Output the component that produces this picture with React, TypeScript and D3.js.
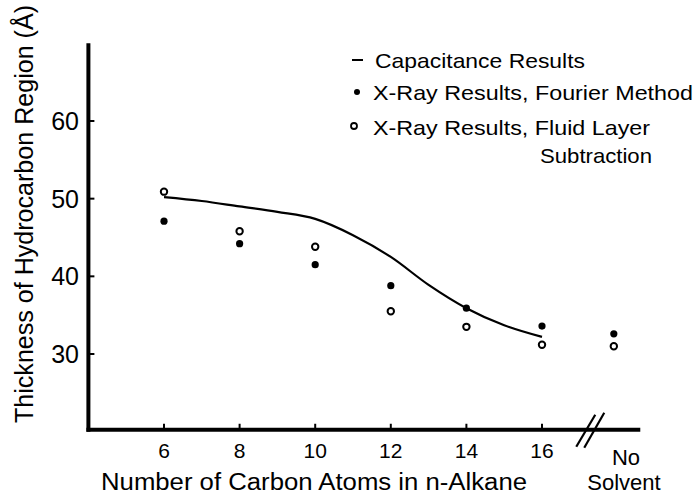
import React from "react";
import * as d3 from "d3";

const carbons = [6, 8, 10, 12, 14, 16];
const fourierValues = [47.1, 44.2, 41.5, 38.8, 35.9, 33.6];
const fluidValues = [50.9, 45.8, 43.8, 35.5, 33.5, 31.2];
const capacitanceX = [6, 7, 8, 9, 10, 11, 12, 13, 14, 15, 16];
const capacitanceY = [50.2, 49.7, 49.0, 48.3, 47.4, 45.3, 42.5, 38.9, 35.9, 33.7, 32.2];
const noSolventPos = 17.9;
const noSolventFourier = 32.6;
const noSolventFluid = 31.0;
const yTicks = [30, 40, 50, 60];
const xTickLabels = ["6", "8", "10", "12", "14", "16"];
const legendLabels = [
  "Capacitance Results",
  "X-Ray Results, Fourier Method",
  "X-Ray Results, Fluid Layer",
  "Subtraction",
];

const W = 696;
const H = 495;
const FONT = "'Liberation Sans', Arial, sans-serif";

export default function App() {
  const x = d3.scaleLinear().domain([4, 18]).range([88.4, 617.6]);
  const y = d3.scaleLinear().domain([20, 70]).range([431.7, 43.3]);

  const axisY = y(20.25);
  const axisEnd = x(18.6);
  const brk = x(17.25);

  const line = d3
    .line<number>()
    .x((_, i) => x(capacitanceX[i]))
    .y((d) => y(d))
    .curve(d3.curveMonotoneX);

  return (
    <svg
      width={W}
      height={H}
      viewBox={`0 0 ${W} ${H}`}
      style={{ position: "absolute", left: 0, top: 0, background: "#fff" }}
      fontFamily={FONT}
    >
      <rect x={0} y={0} width={W} height={H} fill="#fff" />
      {/* axes */}
      <line x1={x(4)} y1={y(70)} x2={x(4)} y2={axisY + 2} stroke="#000" strokeWidth={4} />
      <line x1={x(4) - 2} y1={axisY} x2={axisEnd} y2={axisY} stroke="#000" strokeWidth={4} />
      {/* y ticks */}
      {yTicks.map((t) => (
        <g key={t}>
          <line x1={x(4)} x2={x(4) + 6} y1={y(t)} y2={y(t)} stroke="#000" strokeWidth={2} />
          <text x={79} y={y(t)} dy="0.36em" textAnchor="end" fontSize={25}>
            {t}
          </text>
        </g>
      ))}
      {/* x ticks */}
      {carbons.map((c, i) => (
        <g key={c}>
          <line x1={x(c)} x2={x(c)} y1={axisY} y2={axisY - 6} stroke="#000" strokeWidth={2} />
          <text x={x(c)} y={458} textAnchor="middle" fontSize={21}>
            {xTickLabels[i]}
          </text>
        </g>
      ))}
      {/* axis break */}
      <line x1={brk - 13} y1={axisY + 17} x2={brk + 6} y2={axisY - 15} stroke="#000" strokeWidth={2.2} />
      <line x1={brk - 5} y1={axisY + 18} x2={brk + 15} y2={axisY - 17} stroke="#000" strokeWidth={2.2} />
      {/* labels */}
      <text x={101} y={490} fontSize={23} textLength={426} lengthAdjust="spacingAndGlyphs">
        Number of Carbon Atoms in n-Alkane
      </text>
      <text x={626} y={465} textAnchor="middle" fontSize={22}>
        No
      </text>
      <text x={624} y={490} textAnchor="middle" fontSize={22}>
        Solvent
      </text>
      <text
        transform="translate(33,423) rotate(-90)"
        x={0}
        y={0}
        fontSize={25}
        textLength={418}
        lengthAdjust="spacingAndGlyphs"
      >
        Thickness of Hydrocarbon Region (Å)
      </text>
      {/* capacitance curve */}
      <path d={line(capacitanceY) || ""} fill="none" stroke="#000" strokeWidth={2.2} />
      {/* fourier (filled) */}
      {carbons.map((c, i) => (
        <circle key={"f" + c} cx={x(c)} cy={y(fourierValues[i])} r={3.6} fill="#000" />
      ))}
      <circle cx={x(noSolventPos)} cy={y(noSolventFourier)} r={3.6} fill="#000" />
      {/* fluid (open) */}
      {carbons.map((c, i) => (
        <circle key={"o" + c} cx={x(c)} cy={y(fluidValues[i])} r={3.2} fill="#fff" stroke="#000" strokeWidth={2} />
      ))}
      <circle cx={x(noSolventPos)} cy={y(noSolventFluid)} r={3.2} fill="#fff" stroke="#000" strokeWidth={2} />
      {/* legend */}
      <line x1={352} x2={363} y1={60} y2={60} stroke="#000" strokeWidth={2} />
      <text x={375} y={68} fontSize={21} textLength={210} lengthAdjust="spacingAndGlyphs">
        {legendLabels[0]}
      </text>
      <circle cx={357} cy={92} r={3} fill="#000" />
      <text x={373} y={100} fontSize={21} textLength={320} lengthAdjust="spacingAndGlyphs">
        {legendLabels[1]}
      </text>
      <circle cx={354} cy={126} r={3} fill="#fff" stroke="#000" strokeWidth={1.8} />
      <text x={373} y={135} fontSize={21} textLength={277} lengthAdjust="spacingAndGlyphs">
        {legendLabels[2]}
      </text>
      <text x={540} y={163} fontSize={21} textLength={112} lengthAdjust="spacingAndGlyphs">
        {legendLabels[3]}
      </text>
    </svg>
  );
}
